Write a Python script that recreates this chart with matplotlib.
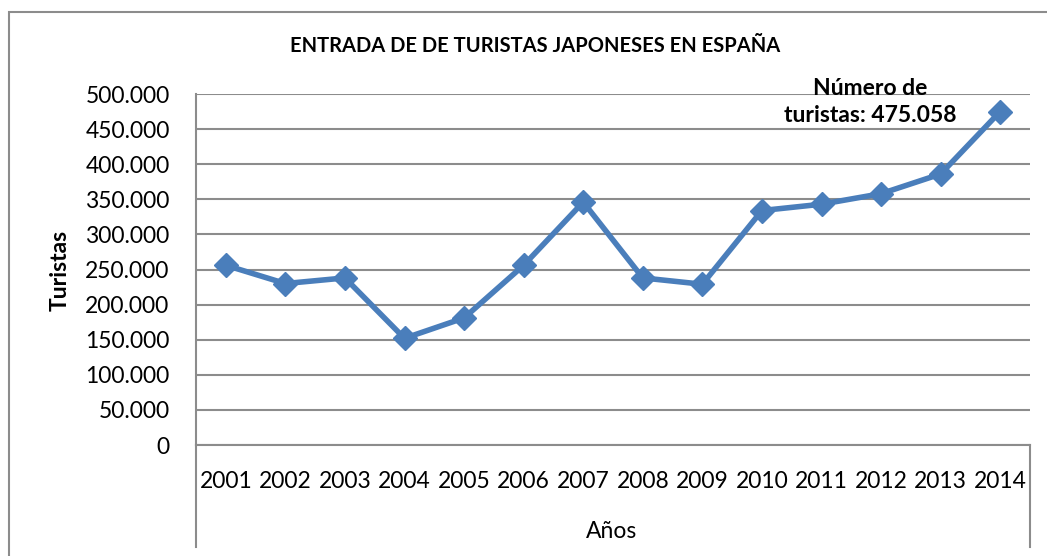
import matplotlib.pyplot as plt
from matplotlib.ticker import FuncFormatter, MultipleLocator
from matplotlib.lines import Line2D
from matplotlib.patches import Rectangle

plt.rcParams['font.family'] = ['Lato', 'DejaVu Sans']

years = ['2001', '2002', '2003', '2004', '2005', '2006', '2007',
         '2008', '2009', '2010', '2011', '2012', '2013', '2014']
turistas = [256000, 230000, 238000, 152000, 181000, 256000, 346000,
            238000, 229000, 334000, 343000, 358000, 386000, 475058]

W, H = 1047, 556
fig = plt.figure(figsize=(W / 100, H / 100), dpi=100)

# marco exterior del gráfico
fig.patches.append(Rectangle((9 / W, -0.05), 1.1, 1 - 12 / H + 0.05, transform=fig.transFigure,
                             fill=False, edgecolor='#8c8c8c', linewidth=1.5))

left, right, top, bottom = 196, 1030, 94, 445
ax = fig.add_axes([left / W, 1 - bottom / H, (right - left) / W, (bottom - top) / H])

x = list(range(len(years)))
ax.plot(x, turistas, color='#4A7EBB', linewidth=4, marker='D', markersize=12.5,
        markerfacecolor='#4A7EBB', markeredgecolor='#4A7EBB', zorder=3)

ax.set_xlim(-0.5, len(years) - 0.5)
ax.set_ylim(0, 500000)
ax.yaxis.set_major_locator(MultipleLocator(50000))
ax.yaxis.set_major_formatter(FuncFormatter(lambda v, p: f'{int(v):,}'.replace(',', '.')))
ax.set_xticks(x)
ax.set_xticklabels(years)
ax.tick_params(axis='both', length=0, labelsize=16.5)
ax.tick_params(axis='y', pad=19)
ax.tick_params(axis='x', pad=19)

ax.grid(axis='y', color='#8c8c8c', linewidth=1.5)
ax.set_axisbelow(True)
for s in ['top', 'right']:
    ax.spines[s].set_visible(False)
for s in ['left', 'bottom']:
    ax.spines[s].set_color('#8c8c8c')
    ax.spines[s].set_linewidth(1.5)

# líneas verticales del eje de categorías
for xp in (left, right):
    fig.add_artist(Line2D([xp / W, xp / W], [1 - bottom / H, 1 - 547 / H],
                          transform=fig.transFigure, color='#8c8c8c', linewidth=1.5))

fig.text(535 / W, 1 - 46 / H, 'ENTRADA DE DE TURISTAS JAPONESES EN ESPAÑA',
         ha='center', va='center', fontsize=14.5, fontweight='bold')
fig.text(60 / W, 1 - 270 / H, 'Turistas', rotation=90, ha='center', va='center',
         fontsize=16.5, fontweight='bold')
fig.text(612 / W, 1 - 531 / H, 'Años', ha='center', va='center', fontsize=16.5)

# etiqueta del último punto
fig.text(870 / W, 1 - 102 / H, 'Número de\nturistas: ' + f'{turistas[-1]:,}'.replace(',', '.'),
         ha='center', va='center', fontsize=16.5, fontweight='bold', linespacing=1.4)

fig.savefig('out.png', dpi=100)
